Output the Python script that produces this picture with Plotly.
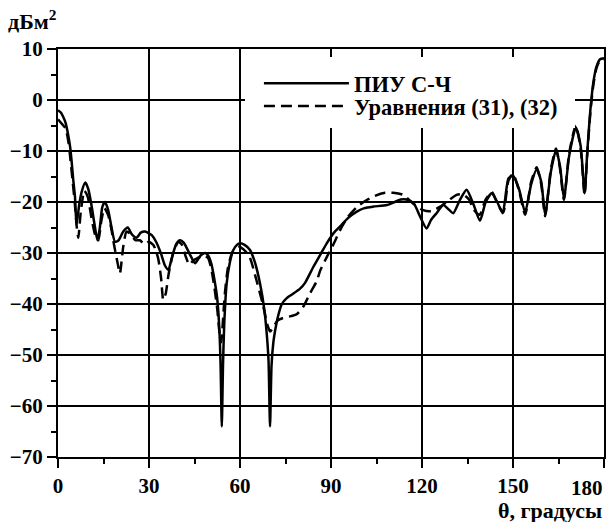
import plotly.graph_objects as go

# ПИУ С-Ч (solid)
theta_piu = [0, 1, 1.7, 2.5, 3.4, 4.0, 4.5, 5.0, 5.6, 6.1, 7.0, 7.8, 9.0, 10.0, 11.0, 12.2, 13.0,
             13.8, 14.6, 15.5, 16.5, 17.5, 18.8, 20.0, 21.5, 23.0, 24.3, 25.9, 27.3, 28.7, 30.9,
             32.5, 34.0, 35.3, 36.4, 37.5, 39.0, 40.2, 41.5, 43.5, 45.2, 47.0, 48.5, 49.5, 50.5,
             51.5, 52.5, 53.2, 53.6, 54.0, 54.4, 54.8, 55.6, 56.6, 57.8, 59.0, 60.0, 61.5, 63.3,
             65.0, 66.6, 68.0, 68.8, 69.4, 69.9, 70.4, 71.0, 71.5, 72.5, 73.8, 75.5, 77.5, 79.8,
             81.5, 84.2, 86.5, 88.6, 91.0, 93.0, 95.5, 98.5, 101.0, 104.0, 108.4, 111.0, 113.0,
             115.5, 117.5, 119.4, 121.5, 123.0, 124.8, 127.0, 128.5, 130.3, 132.5, 134.7, 137.0,
             139.1, 141.0, 143.0, 144.8, 146.6, 148.5, 150.0, 152.0, 154.0, 156.0, 157.8, 159.3,
             160.6, 162.5, 164.2, 165.5, 166.8, 168.5, 170.7, 172.3, 173.6, 174.5, 175.5, 176.5,
             177.5, 178.7, 180.0]
rcs_piu = [-2.0, -2.5, -3.3, -4.5, -7.0, -9.2, -12.1, -15.5, -19.0, -24.5, -20.5, -18.0, -16.2,
           -17.5, -20.5, -25.0, -27.5, -25.0, -21.0, -20.0, -21.5, -24.5, -27.8, -27.5, -25.8,
           -25.0, -26.3, -27.0, -26.0, -25.8, -26.5, -28.0, -30.2, -32.5, -33.3, -31.0, -28.2,
           -27.5, -28.0, -30.3, -32.0, -30.5, -30.0, -30.5, -32.0, -35.0, -39.0, -45.0, -52.0,
           -64.0, -52.0, -44.0, -36.0, -32.0, -29.4, -28.4, -28.1, -28.4, -29.4, -32.0, -36.0,
           -41.0, -45.7, -51.0, -64.0, -52.0, -47.5, -45.5, -42.5, -40.0, -38.8, -38.0, -37.0,
           -35.8, -32.7, -30.3, -28.1, -26.0, -24.8, -23.2, -21.9, -21.2, -20.9, -20.6, -20.0,
           -19.5, -19.6, -20.5, -22.9, -25.2, -23.5, -22.2, -20.6, -21.3, -22.2, -19.6, -17.6,
           -20.5, -23.7, -20.0, -18.3, -20.0, -22.2, -15.4, -14.8, -17.5, -22.0, -16.5, -13.6,
           -16.0, -22.5, -14.0, -9.8, -13.0, -19.3, -11.0, -5.4, -9.0, -18.3, -10.0, -2.0, 3.5,
           6.5, 8.0, 8.2]

# Уравнения (31), (32) (dashed)
theta_eq = [0, 1.7, 2.5, 3.5, 4.5, 5.5, 6.2, 6.7, 7.5, 8.7, 9.8, 11.0, 12.5, 13.3, 14.2, 15.3,
            16.5, 17.5, 18.5, 19.5, 20.4, 21.5, 22.6, 24.0, 25.5, 27.0, 28.5, 30.0, 31.5, 33.0,
            34.0, 34.7, 35.5, 36.5, 38.0, 39.7, 41.0, 42.0, 43.3, 44.5, 46.0, 48.0, 49.5, 50.5,
            51.5, 52.5, 53.3, 53.8, 54.3, 55.0, 56.0, 57.5, 59.5, 61.0, 63.0, 65.5, 67.5, 69.0,
            69.9, 71.0, 72.5, 74.0, 76.0, 78.7, 80.9, 83.0, 85.3, 86.4, 88.6, 90.8, 93.0, 95.5,
            98.5, 101.8, 104.5, 107.8, 110.5, 113.8, 117.1, 120.4, 123.0, 126.0, 128.5, 131.4,
            133.5, 135.5, 137.0, 139.0, 141.0, 143.0, 145.0, 146.8, 148.5, 150.0, 152.0, 154.0,
            156.0, 157.8, 159.3, 160.6, 162.5, 164.2, 165.5, 166.8, 168.5, 170.7, 172.3, 173.6,
            174.5, 175.5, 176.5, 177.5, 178.7, 180.0]
rcs_eq = [-3.8, -5.0, -5.5, -8.5, -14.0, -20.0, -25.0, -27.0, -22.0, -17.8, -19.0, -23.0, -27.0,
          -27.5, -24.0, -21.2, -22.5, -25.0, -28.5, -31.5, -34.0, -28.8, -25.8, -26.3, -27.5,
          -27.5, -28.3, -27.8, -28.5, -31.0, -35.0, -39.2, -38.0, -34.0, -30.0, -27.8, -28.5,
          -30.5, -32.3, -31.5, -31.0, -30.5, -31.0, -33.0, -36.5, -41.0, -46.0, -47.5, -44.0,
          -38.0, -33.0, -29.8, -28.8, -29.2, -30.5, -35.5, -40.0, -44.0, -45.4, -44.5, -43.2,
          -42.8, -42.5, -42.0, -40.5, -38.0, -35.5, -33.5, -30.8, -28.3, -25.5, -23.0, -21.0,
          -19.6, -18.8, -18.2, -18.2, -18.6, -20.3, -21.6, -21.8, -20.9, -19.8, -18.6, -18.5,
          -19.5, -21.5, -22.5, -19.5, -18.0, -20.5, -22.0, -15.8, -14.5, -17.8, -22.5, -16.0,
          -13.2, -16.5, -22.8, -13.5, -9.5, -13.5, -19.6, -10.5, -5.0, -9.5, -18.6, -10.5,
          -2.5, 3.0, 6.2, 7.8, 8.0]

x_ticks = [0, 30, 60, 90, 120, 150, 180]
x_ticktext = ["0", "30", "60", "90", "120", "150", ""]
x_last_label = "180"
y_ticks = [10, 0, -10, -20, -30, -40, -50, -60, -70]

SERIF = "Times New Roman, Liberation Serif, serif"

fig = go.Figure()
fig.add_trace(go.Scatter(x=theta_piu, y=rcs_piu, mode="lines", name="ПИУ С-Ч", legend="legend",
                         line=dict(color="black", width=2.5, shape="spline", smoothing=0.6)))
fig.add_trace(go.Scatter(x=theta_eq, y=rcs_eq, mode="lines", name="Уравнения (31), (32)",
                         legend="legend2",
                         line=dict(color="black", width=2.5, dash="11px,6px", shape="spline",
                                   smoothing=0.6)))

minor_common = dict(ticks="outside", ticklen=5, tickwidth=1.5, tickcolor="black", showgrid=False)
axis_common = dict(
    showline=True, linecolor="black", linewidth=2, mirror=True,
    showgrid=True, gridcolor="black", gridwidth=1.5,
    ticks="outside", ticklen=9, tickwidth=2, tickcolor="black",
    tickfont=dict(family=SERIF, size=21, color="black", weight="bold"),
    zeroline=False, automargin=False,
)
legend_font = dict(family=SERIF, size=22.5, color="black", weight="bold")

fig.update_layout(
    width=609, height=522,
    margin=dict(l=58, r=5, t=49, b=65),
    paper_bgcolor="white", plot_bgcolor="white",
    showlegend=True,
    legend=dict(x=0.368, y=0.968, xanchor="left", yanchor="top", bgcolor="rgba(0,0,0,0)",
                font=legend_font, itemwidth=85),
    legend2=dict(x=0.368, y=0.912, xanchor="left", yanchor="top", bgcolor="rgba(0,0,0,0)",
                 font=legend_font, itemwidth=85),
    shapes=[dict(type="rect", xref="paper", yref="paper", layer="above",
                 x0=(245 - 58) / 546, x1=(575 - 58) / 546,
                 y0=(457 - 128) / 408, y1=(457 - 57) / 408,
                 fillcolor="white", line=dict(width=0))],
    xaxis=dict(range=[0, 180], tickvals=x_ticks, ticktext=x_ticktext,
               minor=dict(minor_common, tickvals=[15, 45, 75, 105, 135, 165]),
               **axis_common),
    yaxis=dict(range=[-70, 10], tickvals=y_ticks,
               minor=dict(minor_common, tickvals=[5, -5, -15, -25, -35, -45, -55, -65]),
               **axis_common),
    annotations=[
        dict(text="дБм<sup>2</sup>", xref="paper", yref="paper", x=-0.095, y=1.032,
             xanchor="left", yanchor="bottom", showarrow=False,
             font=dict(family=SERIF, size=22, color="black", weight="bold")),
        dict(text=x_last_label, xref="paper", yref="paper", x=1.0, y=-0.075,
             xanchor="right", yanchor="middle", showarrow=False, xshift=1,
             font=dict(family=SERIF, size=21, color="black", weight="bold")),
        dict(text="θ, градусы", xref="paper", yref="paper", x=1.0, y=-0.13,
             xanchor="right", yanchor="middle", showarrow=False,
             font=dict(family=SERIF, size=22, color="black", weight="bold")),
    ],
)

fig.write_html("out.html", config={"displayModeBar": False},
               post_script="document.body.style.margin='0';")
